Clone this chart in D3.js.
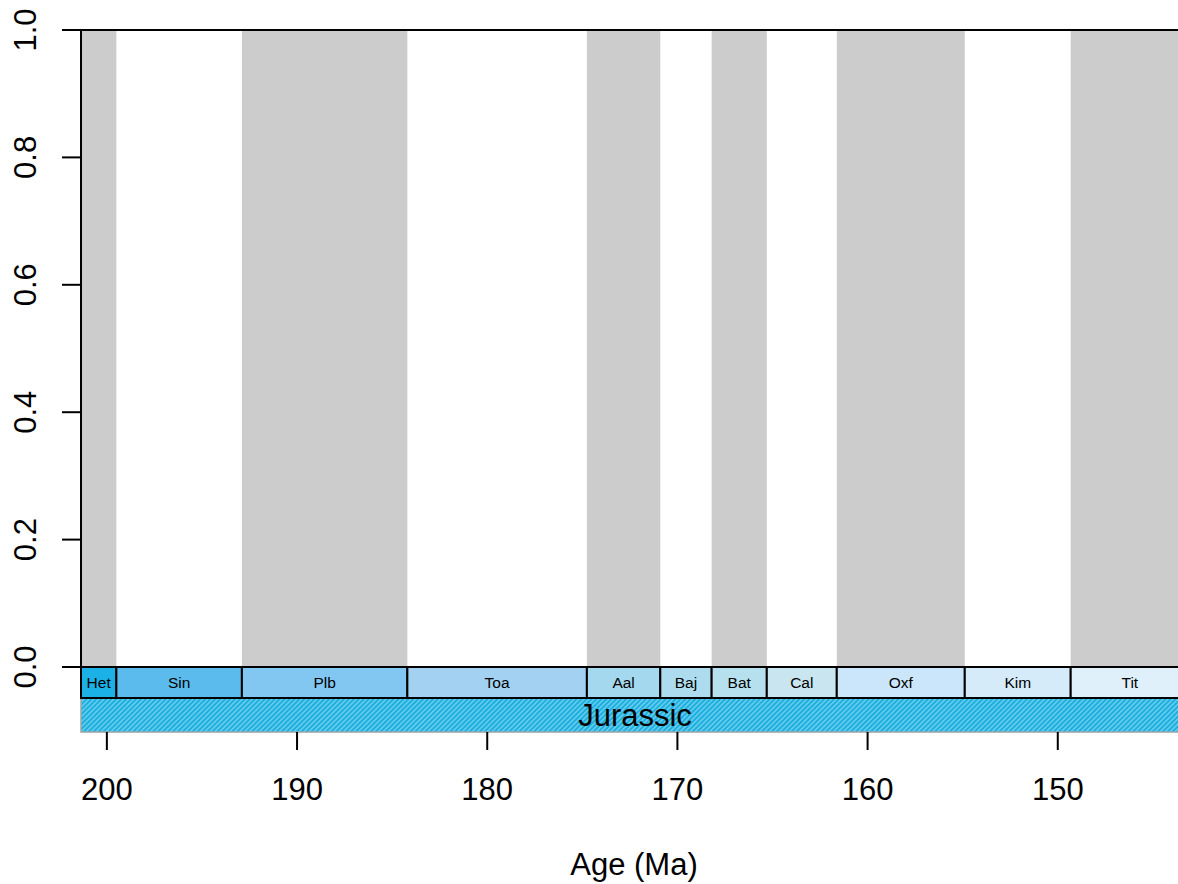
<!DOCTYPE html>
<html><head><meta charset="utf-8">
<script src="https://cdn.jsdelivr.net/npm/d3@7"></script>
<style>body{margin:0;background:#fff}svg{display:block;font-family:"Liberation Sans",Arial,sans-serif}</style>
</head><body>
<script>
const stageNames = ["Het","Sin","Plb","Toa","Aal","Baj","Bat","Cal","Oxf","Kim","Tit"];
const stageMax = [201.36,199.5,192.9,184.2,174.76,170.9,168.2,165.3,161.62,154.89,149.32];
const stageMin = [199.5,192.9,184.2,174.76,170.9,168.2,165.3,161.62,154.89,149.32,143.1];
const stageColors = ["#1BB1E7","#5BBBEC","#81C7F1","#A3D1F2","#A3D8EE","#AEDCEF","#B7E0EE","#C9E5F0","#CBE6FA","#D5EBF9","#DFF0FB"];
const periodName = ["Jurassic"];
const periodMax = [201.36];
const periodMin = [143.1];
const xTicks = [200,190,180,170,160,150];
const yTicks = [0,0.2,0.4,0.6,0.8,1.0];

const W = 1178, H = 884;
const svg = d3.select("body").append("svg").attr("width", W).attr("height", H);
const x = d3.scaleLinear().domain([201.36, 143.1]).range([81, 1189]);
const y = d3.scaleLinear().domain([0, 1]).range([667, 30]);
const stageTop = 667, stageBot = 698, perBot = 732;

const defs = svg.append("defs");
const pat = defs.append("pattern").attr("id","hatch").attr("patternUnits","userSpaceOnUse")
  .attr("width",3.5).attr("height",3.5).attr("patternTransform","rotate(45)");
pat.append("rect").attr("width",3.5).attr("height",3.5).attr("fill","#19AFDF");
pat.append("line").attr("x1",0.8).attr("y1",0).attr("x2",0.8).attr("y2",3.5).attr("stroke","#8FD9F3").attr("stroke-width",1.1);

const stages = stageNames.map((n,i)=>({name:n,max:stageMax[i],min:stageMin[i],col:stageColors[i],i}));

// gray bands
svg.append("g").selectAll("rect").data(stages.filter(d=>d.i%2===0)).join("rect")
  .attr("x",d=>x(d.max)).attr("width",d=>x(d.min)-x(d.max))
  .attr("y",y(1)).attr("height",y(0)-y(1)).attr("fill","#CCCCCC");

// period bar
const periods = periodName.map((n,i)=>({name:n,max:periodMax[i],min:periodMin[i]}));
svg.append("g").selectAll("rect").data(periods).join("rect")
  .attr("x",d=>x(d.max)).attr("width",d=>x(d.min)-x(d.max))
  .attr("y",stageBot).attr("height",perBot-stageBot)
  .attr("fill","url(#hatch)").attr("stroke","#9AA4A8").attr("stroke-width",1.5);
svg.append("g").selectAll("text").data(periods).join("text")
  .attr("x",d=>x((d.max+d.min)/2)).attr("y",(stageBot+perBot)/2+11)
  .attr("text-anchor","middle").attr("font-size",31).attr("fill","#000").text(d=>d.name);

// stage boxes
svg.append("g").selectAll("rect").data(stages).join("rect")
  .attr("x",d=>x(d.max)).attr("width",d=>x(d.min)-x(d.max))
  .attr("y",stageTop).attr("height",stageBot-stageTop)
  .attr("fill",d=>d.col).attr("stroke","#000").attr("stroke-width",2);
svg.append("g").selectAll("text").data(stages).join("text")
  .attr("x",d=>x((d.max+d.min)/2)).attr("y",(stageTop+stageBot)/2+5.5)
  .attr("text-anchor","middle").attr("font-size",15.5).attr("fill","#000").text(d=>d.name);

// top line & zero line
svg.append("line").attr("x1",81).attr("x2",W).attr("y1",y(1)).attr("y2",y(1)).attr("stroke","#000").attr("stroke-width",2);
svg.append("line").attr("x1",81).attr("x2",W).attr("y1",y(0)).attr("y2",y(0)).attr("stroke","#000").attr("stroke-width",2);

// y axis
const ya = svg.append("g");
ya.append("line").attr("x1",81).attr("x2",81).attr("y1",y(1)).attr("y2",stageBot).attr("stroke","#000").attr("stroke-width",2);
ya.selectAll("line.t").data(yTicks).join("line").attr("class","t")
  .attr("x1",62).attr("x2",81).attr("y1",d=>y(d)).attr("y2",d=>y(d)).attr("stroke","#000").attr("stroke-width",2);
ya.selectAll("text").data(yTicks).join("text")
  .attr("transform",d=>`translate(36,${y(d)}) rotate(-90)`)
  .attr("text-anchor","middle").attr("font-size",31).text(d=>d3.format(".1f")(d));

// x axis
const xa = svg.append("g");
xa.selectAll("line").data(xTicks).join("line")
  .attr("x1",d=>x(d)).attr("x2",d=>x(d)).attr("y1",perBot).attr("y2",750).attr("stroke","#000").attr("stroke-width",2);
xa.selectAll("text").data(xTicks).join("text")
  .attr("x",d=>x(d)).attr("y",800).attr("text-anchor","middle").attr("font-size",31).text(d=>d);
svg.append("text").attr("x",634).attr("y",875).attr("text-anchor","middle").attr("font-size",31).text("Age (Ma)");
</script>
</body></html>
